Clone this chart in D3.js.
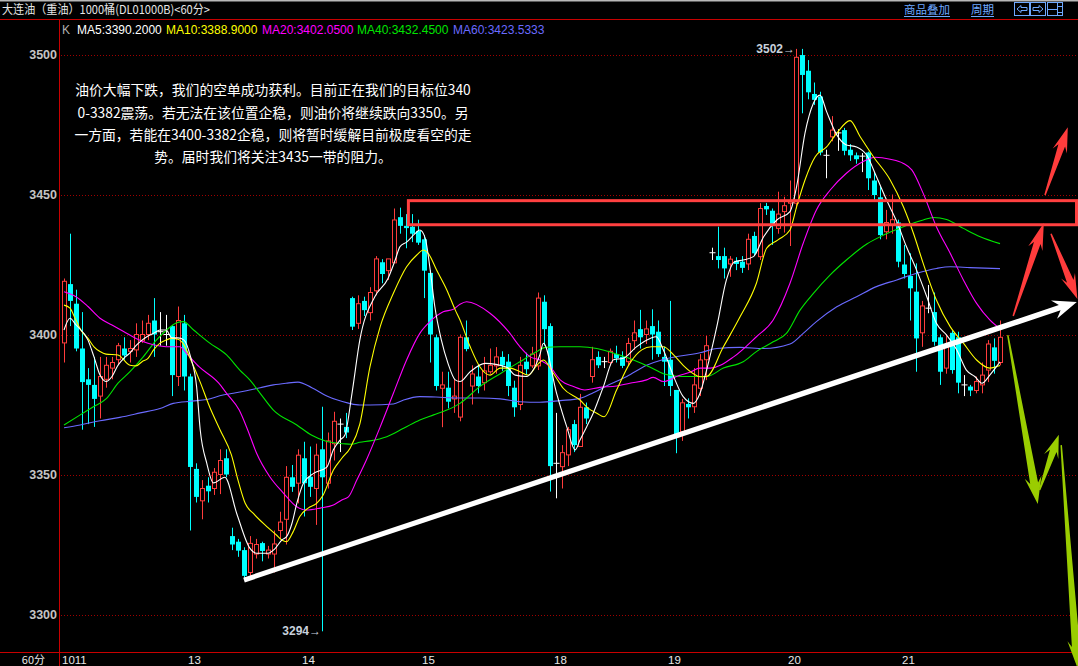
<!DOCTYPE html>
<html><head><meta charset="utf-8">
<script src="https://cdn.jsdelivr.net/npm/d3@7"></script>
<style>body{margin:0;background:#000;overflow:hidden}svg{display:block}</style>
</head><body><svg id="c" width="1078" height="666"></svg>
<script>
// ---- data (60-minute bars, index 0..156) ----
const openP  = [3397,3418,3411,3395,3384,3382,3378,3384,3388,3391,3395,3394,3394.5,3397.7,3400,3405,3401,3400,3403,3385,3404,3385,3352,3340.6,3346,3345,3350,3355.8,3328,3326,3323,3315,3321.6,3325.5,3321.6,3321.6,3330,3334,3349,3346.9,3355.8,3349.2,3345,3359,3346.9,3361,3368,3367,3413,3404,3412,3407.8,3415.6,3425.8,3422.8,3425.6,3441.9,3438.8,3438.5,3437,3434,3422,3399,3380.8,3381,3377,3370.5,3399,3381.6,3385,3382.8,3386.7,3388.8,3392,3390.3,3381,3375,3390.3,3388.8,3388.8,3411.7,3403,3354,3352.8,3357,3368,3360,3374,3385,3392,3390.3,3390,3393,3392,3390.3,3397.8,3401.9,3400,3403,3401,3392,3391,3380.2,3365.3,3375.2,3374.2,3380.8,3391,3429.2,3428,3428,3425.2,3426.3,3426,3425.2,3435.2,3427.8,3445.9,3444.2,3437.9,3443.9,3446.9,3446.9,3499.8,3494.2,3485.9,3485,3464,3470.6,3472,3473,3466,3464,3463.7,3465,3455,3449,3436.7,3439,3440,3425,3420.9,3415.3,3400.6,3409.4,3408,3399,3388,3400.6,3399,3382,3381.4,3380,3382,3387.3,3395.4,3390];
const highP  = [3420,3436,3416,3408,3388,3392,3392,3392,3392,3397,3399,3398,3404,3405,3407,3413,3408,3407,3403.4,3410,3407,3386,3354,3348,3349,3352.3,3359,3359,3331,3327,3324,3328,3327,3326,3324.5,3330,3336.7,3353,3353.4,3359,3361.7,3360,3361,3374.2,3365,3372.4,3370,3372,3413.5,3414,3413.5,3416.9,3428,3426.9,3427,3445,3445.3,3443,3443,3441,3435.5,3423,3400,3386.7,3386.7,3384,3400,3405,3389,3389,3392,3395,3395.5,3394,3393,3383.5,3392,3393.5,3395.6,3415,3414,3404,3372,3360.5,3367,3369.5,3378.8,3375.7,3395.6,3394,3392,3395,3396,3394,3398.8,3405,3408.8,3405,3409,3405,3395.6,3412,3380.2,3377,3377.2,3388,3393,3399.5,3431,3438.5,3431,3428,3427.6,3428,3436,3436.7,3446.9,3447,3445,3451,3449.2,3455,3502,3502,3498,3490,3486.7,3466,3478,3473.3,3473.8,3468,3465,3464.8,3465.3,3458,3452.7,3444.5,3450,3441,3432,3429,3425.4,3412,3417.7,3415,3400,3400,3401.5,3401,3385.5,3382,3385,3390,3398,3398.6,3405];
const lowP   = [3390,3403,3394,3366,3368,3367,3370,3381,3384,3389,3391,3390,3392,3397,3398,3392,3396,3396,3378,3381.6,3380,3330,3340,3334,3340,3342.7,3343,3349,3323,3320.6,3312.5,3313.5,3320,3319,3320,3315,3327,3325,3343.8,3339.7,3335,3342,3332,3294,3345,3355,3358,3363,3401.6,3402,3406.6,3405,3414,3418.3,3419.5,3425.5,3436,3430.8,3433,3432,3413,3390,3380,3366.9,3373.6,3372,3369,3394,3375,3379,3380,3386,3386,3387,3378,3370.6,3373,3385.5,3388,3387.3,3396,3343.9,3341.5,3345,3353,3358,3359.9,3368,3382.8,3388,3388,3389,3390,3388,3388.8,3394.5,3395,3396.6,3391,3392,3381.6,3378,3357.6,3362,3370,3372,3378,3383.7,3426.6,3423.6,3420,3420.6,3423,3422,3423,3428,3426.6,3442.7,3432,3436,3436.4,3431.6,3445,3479,3484,3482,3464,3455.8,3469,3465.6,3464,3462,3461,3458,3451.6,3448,3434,3434,3436,3424,3420,3405,3386.7,3395.6,3407.6,3396,3382,3386,3386,3379,3378,3378,3379,3379,3383,3386,3389];
const closeP = [3419,3412,3395,3383,3382,3377,3385,3389,3390,3396,3392.5,3395,3400,3400,3404,3400,3401,3400,3385.5,3405,3385,3352.7,3342,3345,3344,3350.8,3355,3350,3325,3322.8,3313.8,3325.4,3325,3322.7,3323,3325.2,3333,3349,3345.6,3356.9,3346.9,3345.6,3356.9,3349,3362,3369,3368,3365,3402.8,3411,3408.7,3415,3427,3421.6,3427,3440.9,3438.8,3438,3436,3432.8,3422.8,3400,3381.6,3382,3376,3378,3399,3394.8,3385.9,3381.6,3387,3389,3392,3389,3381.6,3374,3389,3387.6,3393,3413,3401.9,3353,3354,3357.8,3366,3360.5,3374,3370,3391,3389,3390.3,3394,3391.5,3388.8,3396.8,3400.6,3399,3402,3400,3393,3390.3,3381.6,3364,3375.6,3374,3382,3390.9,3396,3429.2,3426.6,3423.6,3426.9,3425.2,3423.8,3434,3429,3445,3444.7,3439.5,3443,3446,3447.4,3499,3492.7,3486.5,3483.8,3465,3464,3473,3472,3465.6,3464,3462.6,3463.7,3455.8,3449.8,3435.5,3440,3441,3426,3421.6,3416.5,3398.6,3410.2,3409.4,3397.4,3386.7,3396,3387.3,3382.8,3382,3380,3383.2,3385.5,3396.6,3390.6,3399];

// moving averages: [bar index, value]
const ma5 = [[0,3401.6],[1,3405.8],[2,3403.4],[4,3398],[5,3392],[6,3385.5],[7,3383.2],[8,3385],[9,3389],[10,3391.6],[11,3393.4],[12,3396],[13,3398],[14,3399.5],[15,3400.5],[16,3401.6],[17,3401.6],[18,3398.8],[19,3398.8],[20,3398],[21.1,3392],[22.1,3381.4],[22.7,3366],[23.8,3354],[24.9,3347],[26.8,3349],[28.8,3336],[31,3323.6],[32.1,3321.9],[34,3321.9],[35.2,3323.6],[36.3,3326.6],[37.1,3327.8],[38,3332.6],[38.8,3339.7],[39.9,3346.9],[41.6,3350.4],[43.8,3352.6],[44.9,3358.8],[46,3362.3],[46.8,3364],[48,3379],[49.3,3398],[51.8,3413.5],[54,3420],[55.2,3426.6],[56,3431.4],[57.1,3433],[58.5,3436],[59.3,3437.3],[60.2,3434.4],[61,3423.6],[61.8,3410],[62.9,3398],[64,3389.7],[65.2,3383.8],[66,3383.2],[67.7,3386.7],[70.2,3389.7],[73.8,3388.3],[75.2,3385.5],[77.1,3385],[78,3386.7],[79.3,3392.7],[79.9,3396.9],[82.1,3379],[83.8,3367],[85.2,3358.8],[86,3362.3],[87.1,3367],[88.2,3371.9],[89.9,3381.4],[91.6,3391],[93.2,3391.5],[95.4,3395.6],[97.7,3398.6],[98.7,3399.2],[99.9,3394.5],[101.6,3385],[103.2,3377.8],[104.9,3375.4],[106,3379],[107.1,3387.3],[108.8,3402.8],[110.4,3419.5],[111.8,3426],[113.2,3426.6],[114.9,3427.8],[116.6,3434.9],[118.8,3440.9],[121,3443.9],[122.1,3452.8],[123.5,3471.9],[124.9,3482.6],[126,3485.5],[127.1,3479.6],[128.8,3471.3],[130.4,3467.7],[132.1,3467],[133.8,3464],[135.4,3456.4],[137.1,3448],[138.8,3440.3],[140.4,3431.4],[142.1,3423],[143.8,3413.5],[145.4,3404],[147.1,3399.8],[148.8,3394.5],[150.4,3387.3],[151.8,3385],[153,3382.6],[154.3,3385.5],[156,3390.2]];
const ma10 = [[0,3410.5],[1,3409.4],[2,3405],[3,3401],[4,3398.6],[5,3395.6],[6,3393.9],[7,3393],[9,3392.7],[11,3389],[12,3388.8],[13,3390.3],[14,3391.5],[15,3394.7],[16,3396.9],[17,3398],[18,3398.6],[19,3398.3],[20,3396.3],[21,3391.6],[22.7,3383],[24.3,3374],[26,3366],[27.9,3357],[29,3348],[30.2,3339.7],[31.6,3336],[33.8,3331.4],[35.4,3328.4],[36.3,3326.6],[37.1,3326],[38.2,3329.6],[39.3,3335],[40.7,3338],[42.1,3339.7],[43.2,3342.7],[44.9,3351.6],[46.3,3355.8],[47.7,3359.5],[49.3,3368],[51,3388.5],[52.7,3402.8],[54.9,3414.7],[57.1,3424.2],[58.8,3428.4],[59.9,3430.2],[60.7,3429],[62.1,3423],[63.8,3415.9],[65.2,3408.8],[66,3405.2],[67.7,3395.6],[69.3,3388.5],[71,3385.5],[72.7,3388],[74.3,3388],[76,3386.7],[77.4,3385.5],[78.8,3389],[79.9,3390.9],[81.6,3386],[83.2,3380.8],[86,3376.6],[87.4,3373.6],[88.8,3371.9],[90,3370.6],[92.1,3380.2],[94.3,3389.7],[96.3,3394.5],[97.9,3395.6],[99.9,3395.6],[101.6,3392.7],[103.2,3389],[104.9,3386],[106,3384.9],[107.1,3385],[109.9,3395.6],[112.7,3406.4],[115.4,3418.3],[117.1,3430.8],[119,3433.8],[121,3437.3],[122.1,3445.6],[123.5,3455.2],[125.2,3463.5],[127.1,3467],[128.8,3471.9],[131,3476.4],[132.7,3470.6],[134.9,3463.5],[137.7,3455.2],[139.9,3445.6],[141.6,3436],[143.2,3425.4],[145.4,3412.3],[147.7,3402.8],[149.9,3396.9],[152.1,3390.9],[154.3,3388],[156,3388.9]];
const ma20 = [[0,3415.3],[2,3413.5],[4,3410],[6,3405.8],[8,3403.4],[10,3401],[12,3398.6],[14,3396.9],[16,3395.9],[18,3395.6],[19.3,3395.6],[20.4,3393.3],[22.5,3388.5],[25.8,3382.6],[27.1,3379],[29.2,3373],[30.6,3366],[32.1,3357.6],[34.3,3349.2],[36.6,3343.3],[38.8,3338.5],[40.4,3337.3],[42.7,3338],[44.9,3339.1],[46.3,3340.9],[47.4,3342],[48.8,3348],[50.4,3355.2],[52.7,3367],[54.9,3379],[57.1,3390.9],[59.3,3400.4],[61,3404.6],[63.2,3408.1],[64.9,3409],[66,3410.8],[67.1,3411.7],[71,3407.6],[74.1,3401],[76,3395.6],[77.7,3392],[79.3,3390.9],[81,3388.5],[82.7,3383.8],[84.9,3381.4],[86.8,3380.2],[89.3,3381.1],[92.1,3381.6],[94.3,3382.6],[97.1,3383.8],[98.2,3384.7],[99.9,3383.2],[102.1,3385],[104.3,3386.5],[106,3388],[107.7,3388],[111.6,3392],[115.4,3399.2],[118.2,3405.2],[121,3418.3],[123.2,3432.6],[125.4,3444.5],[127.7,3451.6],[130.4,3457.6],[133.2,3461.8],[135.2,3463.3],[137.7,3462.6],[139.9,3461.1],[141.3,3458.8],[143.2,3450.4],[145.4,3438.5],[147.7,3429],[149.9,3419.5],[152.1,3411.1],[154.3,3405.2],[156,3402.05]];
const ma40 = [[0,3367.7],[2.7,3371.3],[4.9,3374.2],[7.1,3377.2],[9,3382.6],[11,3386.7],[13.2,3392],[15.4,3398],[17.1,3401.6],[18.8,3404.2],[19.9,3404.6],[21.6,3401.6],[24.3,3396.9],[27.1,3392.7],[29.3,3387.3],[31,3383.7],[32.7,3379],[34.9,3373],[38.8,3367.7],[41.3,3364],[43.8,3361.8],[46.6,3361],[47.9,3360.8],[49.3,3361.5],[51,3362],[53.8,3363.5],[56.6,3366.5],[59.3,3369.5],[61.6,3371.3],[63.8,3373],[66,3375.4],[69.3,3381.4],[72.7,3386],[76,3390.3],[78.8,3393.9],[80.2,3395.4],[82.7,3395.6],[86,3395.6],[88.8,3395],[92.1,3393],[94.9,3390.9],[97.7,3388.3],[99.9,3386],[102.7,3385],[107.1,3385],[109.9,3388],[113.2,3390.3],[115.4,3393.9],[118.2,3397.4],[120.4,3400.4],[122.7,3408.8],[124.9,3414.7],[127.7,3421.3],[130.4,3426.6],[133.8,3432.3],[136.6,3435.5],[139.9,3438.5],[143.2,3440.9],[144.9,3441.8],[147.1,3441.1],[149.9,3437.9],[152.7,3434.9],[156,3432.45]];
const ma60 = [[0,3366.7],[2.7,3367.7],[6,3369.2],[9.3,3370.4],[12.7,3372],[16,3373.6],[18.2,3375.4],[21.3,3376.2],[23.8,3376.8],[26.5,3378.4],[28.2,3379],[30.4,3379.9],[32.7,3381],[34.9,3382],[37,3382.6],[39,3383],[41.3,3381],[43.8,3378],[47.4,3375.5],[49.3,3374.8],[51,3374.8],[54.9,3375.2],[56.6,3376.6],[59.3,3377.8],[62.7,3377.6],[66,3377.3],[69.3,3377.3],[72.7,3377],[76,3376],[79.3,3375.8],[82.7,3376.4],[86,3377.2],[88.2,3379.2],[90.4,3381.6],[93.8,3385],[97.1,3389],[99.9,3391.1],[102.7,3392.3],[106,3393.5],[108.8,3395],[112.7,3395.4],[116.6,3395],[121,3396.6],[123.2,3400.4],[125.4,3404.6],[128.8,3409.9],[132.1,3413.5],[135.4,3417.1],[138.8,3419.5],[142.1,3421.9],[145.4,3423.6],[147.7,3424.2],[151,3423.9],[156,3423.53]];

const maNames  = ["MA5","MA10","MA20","MA40","MA60"];
const maValues = ["3390.2000","3388.9000","3402.0500","3432.4500","3423.5333"];
const maColors = ["#ffffff","#ffff00","#ff00ff","#00e600","#6a6aff"];
const dayLabels = ["1011","13","14","15","18","19","20","21"];
const dayIdx    = [0,21,40,60,82,101,121,140];
const yTicks    = [3300,3350,3400,3450,3500];
const noteLines = ["油价大幅下跌，我们的空单成功获利。目前正在我们的目标位340",
                   "0-3382震荡。若无法在该位置企稳，则油价将继续跌向3350。另",
                   "一方面，若能在3400-3382企稳，则将暂时缓解目前极度看空的走",
                   "势。届时我们将关注3435一带的阻力。"];
const title = "大连油（重油）1000桶(DL01000B)<60分>";

// ---- scales ----
const W = 1078, H = 666;
const x = d3.scaleLinear().domain([0,156]).range([64,1000]);
const y = d3.scaleLinear().domain([3300,3500]).range([614.5,54.5]);
const svg = d3.select("#c");
const RED = "#ff3c3c", CYAN = "#00ffff", FR = "#c80000";

svg.append("rect").attr("width",W).attr("height",H).attr("fill","#000");
svg.append("rect").attr("width",W).attr("height",1.5).attr("fill","#b8b8b8");

// frame lines
svg.append("line").attr("x1",0).attr("x2",W).attr("y1",19.5).attr("y2",19.5).attr("stroke",FR);
svg.append("line").attr("x1",0).attr("x2",W).attr("y1",652.5).attr("y2",652.5).attr("stroke",FR);
svg.append("line").attr("x1",59.5).attr("x2",59.5).attr("y1",19.5).attr("y2",H).attr("stroke",FR);

// grid + y labels
yTicks.forEach(t=>{
  svg.append("line").attr("x1",61).attr("x2",W).attr("y1",Math.round(y(t))+0.5).attr("y2",Math.round(y(t))+0.5)
    .attr("stroke","#a00000").attr("stroke-dasharray","1,2");
  svg.append("text").attr("x",57).attr("y",y(t)+4.5).attr("text-anchor","end")
    .attr("font-family","Liberation Sans, Arial").attr("font-size",12.5).attr("font-weight","bold")
    .attr("fill","#c4c4c4").text(t);
});

// x labels
svg.append("text").attr("x",45).attr("y",664).attr("text-anchor","end")
  .attr("font-family","Noto Sans CJK SC").attr("font-size",11).attr("fill","#e8e8e8").text("60分");
dayLabels.forEach((d,k)=>{
  svg.append("text").attr("x",x(dayIdx[k])-2).attr("y",664)
    .attr("font-family","Liberation Sans, Arial").attr("font-size",11.5).attr("fill","#e8e8e8").text(d);
});

// title row
svg.append("text").attr("x",2).attr("y",14).attr("font-family","Noto Sans CJK SC").attr("font-size",12)
  .attr("textLength",208).attr("lengthAdjust","spacingAndGlyphs")
  .attr("fill","#e6e6e6").text(title);
const linkF = "Noto Sans CJK SC", LB = "#6ea8ff";
[["商品叠加",904],["周期",971]].forEach(([t,px])=>{
  const tx = svg.append("text").attr("x",px).attr("y",14).attr("font-family",linkF).attr("font-size",11.5)
    .attr("fill",LB).text(t);
  const w = tx.node().getComputedTextLength();
  svg.append("line").attr("x1",px).attr("x2",px+w).attr("y1",16.5).attr("y2",16.5).attr("stroke",LB);
});
// icon buttons
[1014,1030,1047].forEach((bx,k)=>{
  svg.append("rect").attr("x",bx+0.5).attr("y",2.5).attr("width",15).attr("height",13).attr("fill","none").attr("stroke",LB);
});
svg.append("path").attr("d","M1017,9 L1021,5.5 L1021,7.5 L1027,7.5 L1027,10.5 L1021,10.5 L1021,12.5 Z").attr("fill","none").attr("stroke",LB);
svg.append("path").attr("d","M1043,9 L1039,5.5 L1039,7.5 L1033,7.5 L1033,10.5 L1039,10.5 L1039,12.5 Z").attr("fill","none").attr("stroke",LB);
svg.append("path").attr("d","M1057.5,3 L1057.5,15 M1048,9.5 L1057,9.5 M1058,6.5 L1062,6.5 M1058,12.5 L1062,12.5").attr("stroke",LB);

// legend
svg.append("text").attr("x",62).attr("y",34).attr("font-family","Liberation Sans, Arial").attr("font-size",12)
  .attr("fill","#b0b0b0").text("K");
const legX = [77,166,262,357,453];
maNames.forEach((n,k)=>{
  svg.append("text").attr("x",legX[k]).attr("y",34).attr("font-family","Liberation Sans, Arial").attr("font-size",12)
    .attr("fill",maColors[k]).text(n+":"+maValues[k]);
});

// plot clip
svg.append("clipPath").attr("id","pc").append("rect").attr("x",60).attr("y",20).attr("width",W-60).attr("height",632);
const plot = svg.append("g").attr("clip-path","url(#pc)");

// candles
const bars = d3.range(openP.length).map(i=>({i,o:openP[i],h:highP[i],l:lowP[i],c:closeP[i]}));
bars.forEach(b=>{
  const cx = Math.round(x(b.i)) + 0.5;
  const col = b.c > b.o ? RED : (b.c < b.o ? CYAN : "#ffffff");
  plot.append("line").attr("x1",cx).attr("x2",cx).attr("y1",y(b.h)).attr("y2",y(b.l)).attr("stroke",col).attr("stroke-width",1);
  if (b.c > b.o) {
    const top = y(b.c), bot = y(b.o);
    plot.append("rect").attr("x",cx-2).attr("y",top).attr("width",4).attr("height",Math.max(1,bot-top))
      .attr("fill","#000").attr("stroke",RED).attr("stroke-width",1);
  } else if (b.c < b.o) {
    const top = y(b.o), bot = y(b.c);
    plot.append("rect").attr("x",cx-2.5).attr("y",top).attr("width",5).attr("height",Math.max(1,bot-top)).attr("fill",CYAN);
  } else {
    plot.append("line").attr("x1",cx-3).attr("x2",cx+3).attr("y1",y(b.c)).attr("y2",y(b.c)).attr("stroke","#fff");
  }
});

// MA lines
const line = d3.line().x(d=>x(d[0])).y(d=>y(d[1])).curve(d3.curveMonotoneX);
[ma60,ma40,ma20,ma10,ma5].forEach((m,k)=>{
  plot.append("path").attr("d",line(m)).attr("fill","none").attr("stroke",maColors[4-k]).attr("stroke-width",1.1);
});

// extreme labels
svg.append("text").attr("x",x(122)-1).attr("y",y(3502)+4).attr("text-anchor","end")
  .attr("font-family","Liberation Sans, Arial").attr("font-size",12).attr("font-weight","bold").attr("fill","#c8d0dc").text("3502→");
svg.append("text").attr("x",x(43)-1).attr("y",y(3294)+4).attr("text-anchor","end")
  .attr("font-family","Liberation Sans, Arial").attr("font-size",12).attr("font-weight","bold").attr("fill","#c8d0dc").text("3294→");

// resistance box
svg.append("rect").attr("x",x(57.4)).attr("y",y(3447.8)).attr("width",1076.5-x(57.4)).attr("height",y(3439.2)-y(3447.8))
  .attr("fill","none").attr("stroke","#ff4040").attr("stroke-width",3);

// arrows (data coordinates: [bar index, price])
function arrow(p0,p1,col,o){
  const x0=x(p0[0]),y0=y(p0[1]),x1=x(p1[0]),y1=y(p1[1]);
  const dx=x1-x0,dy=y1-y0,L=Math.hypot(dx,dy),ux=dx/L,uy=dy/L,nx=-uy,ny=ux;
  const hb=L-o.hl;
  const P=(a,b)=>[x0+ux*a+nx*b,y0+uy*a+ny*b];
  const pts=[P(0,o.tw/2),P(hb+o.n,o.sw/2),P(hb,o.hw/2),[x1,y1],P(hb,-o.hw/2),P(hb+o.n,-o.sw/2),P(0,-o.tw/2)];
  svg.append("polygon").attr("points",pts.map(p=>p.join(",")).join(" ")).attr("fill",col);
}
arrow([30,3312.3],[168.8,3411.6],"#ffffff",{tw:5,sw:5.5,hl:24,hw:19,n:6});
const RA="#ff3c3c", GA="#9acd00";
arrow([163.5,3449.8],[167.3,3474],RA,{tw:1.5,sw:7,hl:25,hw:15,n:6});
arrow([158.2,3406.6],[163.3,3439.8],RA,{tw:1.5,sw:7,hl:27,hw:15,n:6});
arrow([164.5,3436],[168.9,3412.7],RA,{tw:1.5,sw:7,hl:25,hw:15,n:6});
arrow([157.3,3399.8],[162.3,3339.5],GA,{tw:1.5,sw:8,hl:27,hw:17,n:6});
arrow([162.6,3344.5],[165.8,3364.2],GA,{tw:1.5,sw:7,hl:23,hw:15,n:6});
arrow([166.2,3360.5],[168.9,3281],GA,{tw:1.5,sw:8,hl:27,hw:16,n:6});

// commentary
const noteY = [90,112.5,135,157];
noteLines.forEach((t,k)=>{
  svg.append("text").attr("x",273).attr("y",noteY[k]+5).attr("text-anchor","middle")
    .attr("font-family","Noto Sans CJK SC").attr("font-size",13.8).attr("fill","#ffffff").text(t);
});
</script></body></html>
